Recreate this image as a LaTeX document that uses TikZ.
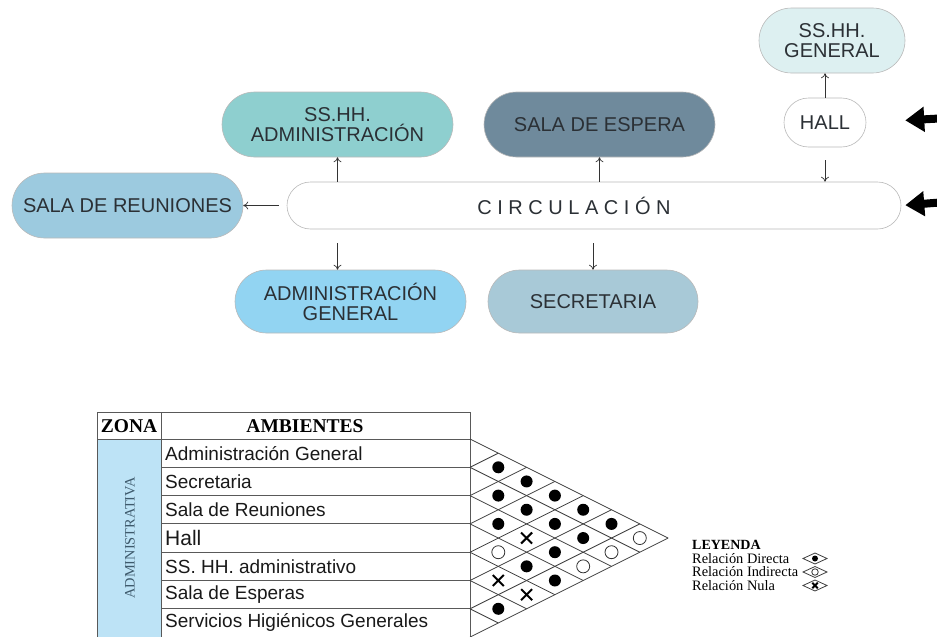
\documentclass[tikz,border=0pt]{standalone}
\usepackage{fontspec}
\setmainfont{Liberation Serif}
\newfontfamily\arialfont{Liberation Sans}
\usetikzlibrary{arrows.meta,shapes.misc}

\definecolor{ssadmcol}{HTML}{8ECFCF}
\definecolor{reucol}{HTML}{9CCADF}
\definecolor{espcol}{HTML}{6F8A9C}
\definecolor{ssgencol}{HTML}{DDF0F1}
\definecolor{admcol}{HTML}{92D4F2}
\definecolor{seccol}{HTML}{A8C9D7}
\definecolor{zonecol}{HTML}{BDE3F6}
\definecolor{zonetxt}{HTML}{3E5A6C}
\definecolor{txtdark}{HTML}{2B3035}

\def \rh{28.3}

\tikzset{
  area/.style={shape=rounded rectangle, draw=gray!55, line width=0.6,
    minimum width=235, minimum height=65, inner sep=2, align=center,
    text=txtdark, font=\arialfont\fontsize{20}{20}\selectfont},
  flow/.style={-{To[length=5,width=8]}, line width=0.7, draw=black!80},
  entry/.style={-{Triangle[length=19,width=24]}, line width=8, draw=black},
  tline/.style={draw=black!65, line width=0.9},
  mline/.style={draw=black!75, line width=0.8},
  rowtxt/.style={anchor=west, inner sep=1, text=black!90,
    font=\arialfont\fontsize{19}{19}\selectfont},
  headtxt/.style={inner sep=1, font=\bfseries\fontsize{19.5}{19.5}\selectfont},
  reldir/.style={circle, fill=black, inner sep=0, minimum size=12},
  relind/.style={circle, draw=black!80, line width=0.8, inner sep=0, minimum size=13},
  relnul/.style={cross out, draw=black, line width=2, inner sep=0, minimum size=9}
}

\begin{document}
\begin{tikzpicture}[x=1pt,y=-1pt]
  \useasboundingbox (0,0) rectangle (937,637);

  % diagrama de relaciones
  \node[area, fill=ssadmcol] (ssadm) at (337.5,124.5) {SS.HH.\\ADMINISTRACIÓN};
  \node[area, fill=espcol] (sesp) at (599.5,124.5) {SALA DE ESPERA};
  \node[area, fill=ssgencol, minimum width=150] (ssgen) at (832,40.5) {SS.HH.\\GENERAL};
  \node[area, fill=white, minimum width=86, minimum height=49] (hall) at (825,122.5) {HALL};
  \node[area, fill=reucol] (sreu) at (127.5,205.5) {SALA DE REUNIONES};
  \node[area, fill=white, minimum width=618, minimum height=47] (circ) at (594,205.5) {};
  \node[text=txtdark, font=\arialfont\fontsize{20}{20}\selectfont] (circtxt) at (574,205.5) {C I R C U L A C I Ó N};
  \node[area, fill=admcol, minimum height=63] (admg) at (350.5,301.5) {ADMINISTRACIÓN\\GENERAL};
  \node[area, fill=seccol, minimum width=214, minimum height=63] (secr) at (593,301.5) {SECRETARIA};

  \draw[flow, shorten <=8] (circ.west) -- (sreu.east);
  \draw[flow] (circ.north -| ssadm.south) -- (ssadm.south);
  \draw[flow] (circ.north -| sesp.south) -- (sesp.south);
  \draw[flow] (hall.north) -- (hall.north |- ssgen.south);
  \draw[flow, shorten <=13] (hall.south) -- (hall.south |- circ.north);
  \draw[flow, shorten <=14] (circ.south -| ssadm.south) -- (admg.north -| ssadm.south);
  \draw[flow, shorten <=14] (circ.south -| secr.north) -- (secr.north);

  % accesos
  \coordinate (entH) at (985,116);
  \coordinate (entC) at (985,199);
  \draw[entry, shorten >=39] (entH) -- (hall.east);
  \draw[entry, shorten >=4] (entC) -- (circ.east);

  % tabla de ambientes
  \fill[zonecol] (97,439) rectangle (161,637);
  \draw[tline] (97,412) -- (470,412);
  \draw[tline] (97,439) -- (161,439);
  \draw[tline] (97,412) -- (97,637);
  \draw[tline] (161,412) -- (161,637);
  \draw[tline] (470,412) -- (470,637);
  \foreach \k in {0,...,7}
    \draw[tline] (161,439+\k*\rh) -- (470,439+\k*\rh);

  \node[headtxt] (zona) at (129,426) {ZONA};
  \node[headtxt] (amb) at (305,426) {AMBIENTES};
  \node[rotate=90, text=zonetxt, font=\fontsize{14.4}{14.4}\selectfont] (zadm) at (130,538) {ADMINISTRATIVA};

  \foreach \k/\txt in {1/Administración General, 2/Secretaria, 3/Sala de Reuniones,
      4/{\fontsize{21}{21}\selectfont Hall}, 5/SS. HH. administrativo, 6/Sala de Esperas,
      7/Servicios Higiénicos Generales}
    \node[rowtxt] (amb\k) at (164,439+\k*\rh-0.5*\rh) {\txt};

  % matriz de relaciones
  \foreach \k in {0,...,7} {
    \draw[mline] (470,439+\k*\rh) -- ++({(7-\k)*\rh},{(7-\k)*\rh/2});
    \draw[mline] (470,439+\k*\rh) -- ++({\k*\rh},{-\k*\rh/2});
  }
  \foreach \i/\j/\r in {1/2/reldir, 2/3/reldir, 3/4/reldir, 4/5/relind, 5/6/relnul, 6/7/reldir,
      1/3/reldir, 2/4/reldir, 3/5/relnul, 4/6/reldir, 5/7/relnul,
      1/4/reldir, 2/5/reldir, 3/6/reldir, 4/7/reldir,
      1/5/reldir, 2/6/reldir, 3/7/relind,
      1/6/reldir, 2/7/relind,
      1/7/relind}
    \node[\r] (c\i\j) at ({470+(\j-\i)*\rh},{439+(\i+\j-1)*\rh/2}) {};

  % leyenda
  \node[anchor=west, inner sep=0, font=\bfseries\fontsize{14}{14}\selectfont] (ley) at (692,545) {LEYENDA};
  \foreach \k/\txt/\r in {1/Relación Directa/reldir, 2/Relación Indirecta/relind, 3/Relación Nula/relnul} {
    \node[anchor=west, inner sep=0, font=\fontsize{14.4}{14.4}\selectfont] (ley\k) at (692,545+\k*13.5) {\txt};
    \draw[mline] (803,545+\k*13.5) -- ++(12,-5.5) -- ++(12,5.5) -- ++(-12,5.5) -- cycle;
    \node[\r, scale=0.5] (lsym\k) at (815,545+\k*13.5) {};
  }
\end{tikzpicture}
\end{document}
